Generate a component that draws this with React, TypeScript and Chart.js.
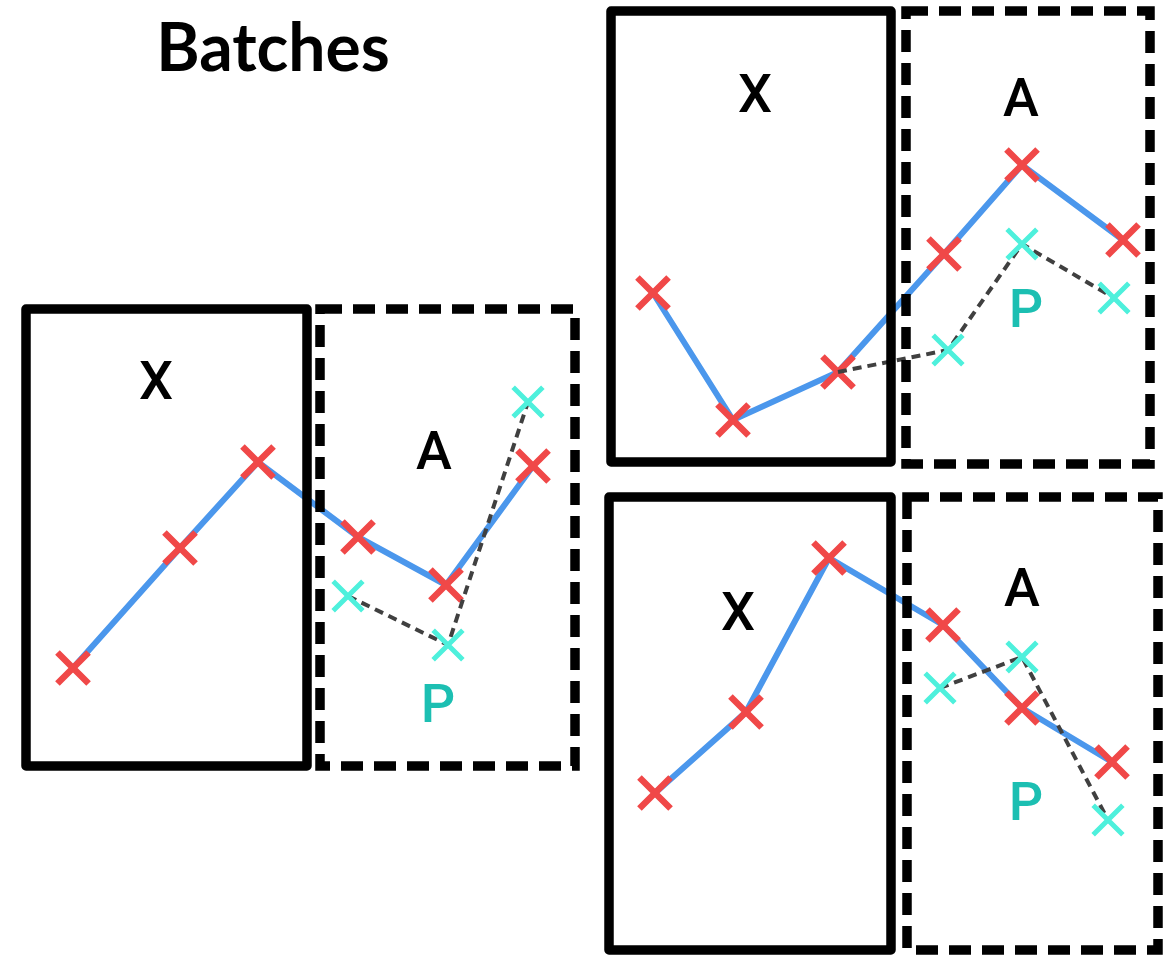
import React, { useEffect, useRef } from "react";
import { Chart, registerables } from "chart.js";

Chart.register(...registerables);

// ---- data (diagram units: horizontal step position, vertical value, y grows downward) ----
const leftSteps = [73, 180, 258, 358, 446, 533];
const leftTrue = [668, 548, 462, 537, 585, 466];
const leftPredSteps = [348, 448, 528];
const leftPred = [596, 645, 402];

const topSteps = [653, 733, 838, 944, 1022, 1123];
const topTrue = [293, 420, 372, 254, 165, 240];
const topPredSteps = [838, 948, 1022, 1114];
const topPred = [372, 350, 244, 298];

const botSteps = [655, 746, 829, 943, 1022, 1112];
const botTrue = [793, 712, 558, 625, 708, 762];
const botPredSteps = [940, 1022, 1108];
const botPred = [688, 657, 820];

// boxes: [left, top, right, bottom] in the same units
const solidBoxes = [
  [26, 309, 307, 766],
  [611, 11, 891, 462],
  [609, 497, 891, 950],
];
const dashedBoxes = [
  [320, 309, 575, 766],
  [906, 11, 1150, 464],
  [907, 497, 1158, 950],
];

const labels = [
  { t: "X", x: 156, y: 381, c: "#000" },
  { t: "A", x: 434, y: 451, c: "#000" },
  { t: "P", x: 438, y: 704, c: "#1cbfb2" },
  { t: "X", x: 755, y: 94, c: "#000" },
  { t: "A", x: 1021, y: 98, c: "#000" },
  { t: "P", x: 1026, y: 309, c: "#1cbfb2" },
  { t: "X", x: 738, y: 612, c: "#000" },
  { t: "A", x: 1022, y: 588, c: "#000" },
  { t: "P", x: 1026, y: 802, c: "#1cbfb2" },
];

const W = 1163;
const H = 957;

const RED = "#f04848";
const BLUE = "#4b97ec";
const CYAN = "#4ef0dc";
const GREY = "#404040";

const zip = (xs: number[], ys: number[]) => xs.map((x, i) => ({ x, y: ys[i] }));

function trueSet(xs: number[], ys: number[]) {
  return {
    data: zip(xs, ys),
    borderColor: BLUE,
    borderWidth: 6,
    pointStyle: "crossRot",
    pointRadius: 22,
    pointBorderColor: RED,
    pointBackgroundColor: RED,
    pointBorderWidth: 6.5,
    order: 1,
    clip: false,
  };
}
function predSet(xs: number[], ys: number[], startsAtTrue: boolean) {
  return {
    data: zip(xs, ys),
    borderColor: GREY,
    borderWidth: 4,
    borderDash: [9, 6],
    pointStyle: "crossRot",
    pointRadius: xs.map((_, i) => (startsAtTrue && i === 0 ? 0 : 21)),
    pointBorderColor: CYAN,
    pointBackgroundColor: CYAN,
    pointBorderWidth: 5,
    order: 0,
    clip: false,
  };
}

const boxPlugin = {
  id: "boxes",
  afterDatasetsDraw(chart: any) {
    const { ctx, scales } = chart;
    const sx = (v: number) => scales.x.getPixelForValue(v);
    const sy = (v: number) => scales.y.getPixelForValue(v);
    ctx.save();
    ctx.strokeStyle = "#000";
    ctx.lineWidth = 9.5;
    ctx.lineJoin = "round";
    for (const b of solidBoxes) {
      ctx.setLineDash([]);
      ctx.beginPath();
      ctx.rect(sx(b[0]), sy(b[1]), sx(b[2]) - sx(b[0]), sy(b[3]) - sy(b[1]));
      ctx.stroke();
    }
    ctx.lineJoin = "miter";
    for (const b of dashedBoxes) {
      ctx.setLineDash([22, 11]);
      ctx.beginPath();
      ctx.rect(sx(b[0]), sy(b[1]), sx(b[2]) - sx(b[0]), sy(b[3]) - sy(b[1]));
      ctx.stroke();
    }
    ctx.restore();
  },
};

export default function App() {
  const ref = useRef<HTMLCanvasElement | null>(null);
  useEffect(() => {
    if (!ref.current) return;
    const chart = new Chart(ref.current, {
      type: "line",
      data: {
        datasets: [
          predSet(leftPredSteps, leftPred, false),
          predSet(topPredSteps, topPred, true),
          predSet(botPredSteps, botPred, false),
          trueSet(leftSteps, leftTrue),
          trueSet(topSteps, topTrue),
          trueSet(botSteps, botTrue),
        ] as any,
      },
      options: {
        responsive: false,
        animation: false,
        layout: { padding: 0, autoPadding: false },
        elements: { line: { tension: 0 } },
        plugins: { legend: { display: false }, tooltip: { enabled: false }, title: { display: false } },
        scales: {
          x: { type: "linear", min: 0, max: W, display: false },
          y: { type: "linear", min: 0, max: H, reverse: true, display: false },
        },
      },
      plugins: [boxPlugin],
    });
    return () => chart.destroy();
  }, []);

  return (
    <div style={{ position: "absolute", left: 0, top: 0, width: W, height: H, background: "#fff", overflow: "hidden" }}>
      <canvas ref={ref} width={W} height={H} style={{ position: "absolute", left: 0, top: 0, width: W, height: H }} />
      <div
        style={{
          position: "absolute",
          left: 273,
          top: 46,
          transform: "translate(-50%, -50%)",
          font: "700 66px Lato, 'Open Sans', sans-serif",
          lineHeight: "1",
          color: "#000",
          whiteSpace: "nowrap",
        }}
      >
        Batches
      </div>
      {labels.map((l, i) => (
        <div
          key={i}
          style={{
            position: "absolute",
            left: l.x,
            top: l.y,
            transform: "translate(-50%, -50%)",
            font: "500 54px Roboto, 'Liberation Sans', sans-serif",
            lineHeight: "1",
            color: l.c,
          }}
        >
          {l.t}
        </div>
      ))}
    </div>
  );
}
